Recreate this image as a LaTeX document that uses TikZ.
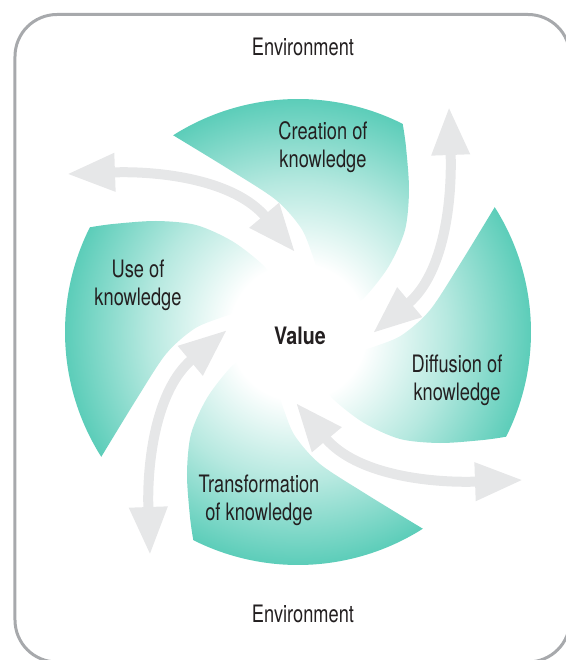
\documentclass[tikz,border=0pt]{standalone}
\usepackage{fontspec}
\setmainfont{TeX Gyre Heros}[FakeStretch=0.76, BoldFeatures={FakeStretch=0.82}]
\usetikzlibrary{arrows.meta}
\definecolor{wteal}{HTML}{5CCDB9}
\definecolor{wgray}{HTML}{E6E7E8}
\definecolor{wframe}{HTML}{A7A9AC}
\definecolor{wtext}{HTML}{231F20}
\colorlet{wtealmid}{wteal!45!white}
\pgfdeclareradialshading{valueglow}{\pgfpoint{0bp}{0bp}}{%
  color(0bp)=(white); color(68bp)=(white); color(150bp)=(wtealmid);
  color(233bp)=(wteal); color(240bp)=(wteal)}
\tikzset{
  blade/.style={insert path={(122.4:233) arc[start angle=122.4, end angle=63.3, radius=233]
    -- plot[smooth] coordinates {(104.7,208.2) (108,185) (111,142) (107,102) (91,66) (68,36) (45,16)}
    -- (12,20)
    -- plot[smooth] coordinates {(22,52) (14,78) (3,104) (-22,132) (-68,162) (122.4:233)} -- cycle}},
  flow/.style={draw=wgray, line width=10bp,
    {Triangle[length=48bp,width=36bp]}-{Triangle[length=48bp,width=36bp]}},
  blocktext/.style={text=wtext, align=center, inner sep=0pt,
    font=\fontsize{24bp}{28bp}\selectfont},
}

\begin{document}
\begin{tikzpicture}[x=1bp, y=1bp]
  \useasboundingbox (-298,-328) rectangle (268,332);
  \clip (-298,-328) rectangle (268,332);
  \draw[wframe, line width=3bp, rounded corners=42bp] (-283,-330) rectangle (272,317.5);

  % four blades, shaded from the centre
  \foreach \r in {0,-90,-180,-270}{
    \begin{scope}[rotate=\r]
      \clip[blade];
      \pgftext{\pgfuseshading{valueglow}}
    \end{scope}
  }

  \draw[flow] (-231,158) to[out=2, in=130] (-3,80);
  \draw[flow] (151,225) to[out=-88, in=40] (75,-1);
  \draw[flow] (225,-148) to[out=-178, in=-50] (-2,-71);
  \draw[flow] (-148,-223) to[out=92, in=-140] (-71,2);

  \node[blocktext, anchor=base] (envtop) at (5,276) {Environment};
  \node[blocktext, anchor=base] (envbottom) at (5,-290) {Environment};
  \node[blocktext] (creation) at (25,184.4) {Creation of\\knowledge};
  \node[blocktext] (diffusion) at (159,-48.6) {Diffusion of\\knowledge};
  \node[blocktext] (transformation) at (-39,-168.6) {Transformation\\of knowledge};
  \node[blocktext] (use) at (-160,46.4) {Use of\\knowledge};
  \node[blocktext, anchor=base, font=\fontsize{24bp}{28bp}\selectfont\bfseries] (value) at (2,-13) {Value};
\end{tikzpicture}
\end{document}
